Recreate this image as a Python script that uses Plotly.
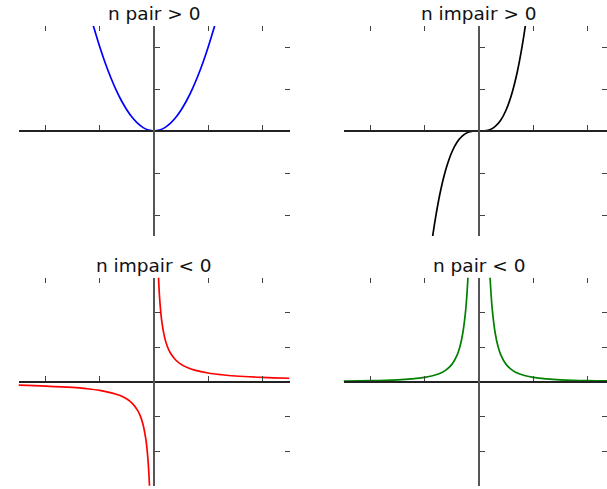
import plotly.graph_objects as go

# ---- curve samples (x, y) for each panel ----
# n pair > 0  : y = x^2
x_even_pos = [-2.4, -2.2, -2.0, -1.8, -1.6, -1.4, -1.2, -1.0, -0.8, -0.6, -0.4, -0.2, 0.0,
              0.2, 0.4, 0.6, 0.8, 1.0, 1.2, 1.4, 1.6, 1.8, 2.0, 2.2, 2.4]
y_even_pos = [5.76, 4.84, 4.0, 3.24, 2.56, 1.96, 1.44, 1.0, 0.64, 0.36, 0.16, 0.04, 0.0,
              0.04, 0.16, 0.36, 0.64, 1.0, 1.44, 1.96, 2.56, 3.24, 4.0, 4.84, 5.76]

# n impair > 0 : y = x^3
x_odd_pos = [-1.9, -1.8, -1.6, -1.4, -1.2, -1.0, -0.8, -0.6, -0.4, -0.2, 0.0,
             0.2, 0.4, 0.6, 0.8, 1.0, 1.2, 1.4, 1.6, 1.8, 1.9]
y_odd_pos = [-6.86, -5.83, -4.10, -2.74, -1.73, -1.0, -0.51, -0.22, -0.06, -0.01, 0.0,
             0.01, 0.06, 0.22, 0.51, 1.0, 1.73, 2.74, 4.10, 5.83, 6.86]

# n impair < 0 : y = 1/x (two branches)
x_odd_neg_left = [-5.0, -4.0, -3.0, -2.5, -2.0, -1.5, -1.25, -1.0, -0.8, -0.6, -0.5,
                  -0.4, -0.3, -0.25, -0.2, -0.15, -0.1]
y_odd_neg_left = [-0.2, -0.25, -0.33, -0.4, -0.5, -0.67, -0.8, -1.0, -1.25, -1.67, -2.0,
                  -2.5, -3.33, -4.0, -5.0, -6.67, -10.0]
x_odd_neg_right = [0.1, 0.15, 0.2, 0.25, 0.3, 0.4, 0.5, 0.6, 0.8, 1.0, 1.25, 1.5,
                   2.0, 2.5, 3.0, 4.0, 5.0]
y_odd_neg_right = [10.0, 6.67, 5.0, 4.0, 3.33, 2.5, 2.0, 1.67, 1.25, 1.0, 0.8, 0.67,
                   0.5, 0.4, 0.33, 0.25, 0.2]

# n pair < 0 : y = 1/x^2 (two branches)
x_even_neg_left = [-5.0, -4.0, -3.0, -2.5, -2.0, -1.5, -1.25, -1.0, -0.8, -0.7, -0.6,
                   -0.5, -0.45, -0.4, -0.35, -0.3]
y_even_neg_left = [0.04, 0.06, 0.11, 0.16, 0.25, 0.44, 0.64, 1.0, 1.56, 2.04, 2.78,
                   4.0, 4.94, 6.25, 8.16, 11.1]
x_even_neg_right = [0.3, 0.35, 0.4, 0.45, 0.5, 0.6, 0.7, 0.8, 1.0, 1.25, 1.5, 2.0,
                    2.5, 3.0, 4.0, 5.0]
y_even_neg_right = [11.1, 8.16, 6.25, 4.94, 4.0, 2.78, 2.04, 1.56, 1.0, 0.64, 0.44,
                    0.25, 0.16, 0.11, 0.06, 0.04]

titles = ["n pair > 0", "n impair > 0", "n impair < 0", "n pair < 0"]
tick_top = [-4, -2, 2, 4]
tick_bottom_y = [-6, -4, -2, 2, 4, 6]

# ---- layout geometry (pixels) ----
W, H = 607, 489
PX_PER_UNIT = 27.1
panels = [
    # left, right, top, bottom, yrange, yticks
    dict(l=18.5, r=289.5, t=26.0, b=236.0, yr=[-5, 5], yt=tick_top),
    dict(l=343.5, r=607.0, t=26.0, b=236.0, yr=[-5, 5], yt=tick_top),
    dict(l=18.5, r=289.5, t=277.7, b=485.7, yr=[-6, 6], yt=tick_bottom_y),
    dict(l=343.5, r=607.0, t=277.7, b=485.7, yr=[-6, 6], yt=tick_bottom_y),
]

fig = go.Figure()

series = [
    [(x_even_pos, y_even_pos, "#0000ff")],
    [(x_odd_pos, y_odd_pos, "#000000")],
    [(x_odd_neg_left, y_odd_neg_left, "#ff0000"), (x_odd_neg_right, y_odd_neg_right, "#ff0000")],
    [(x_even_neg_left, y_even_neg_left, "#008000"), (x_even_neg_right, y_even_neg_right, "#008000")],
]

layout = dict(width=W, height=H, margin=dict(l=0, r=0, t=0, b=0),
              paper_bgcolor="white", plot_bgcolor="white", showlegend=False)
annotations = []

common = dict(showgrid=False, zeroline=False, showticklabels=False, ticks="inside",
              ticklen=5, tickwidth=1, tickcolor="#444444", fixedrange=True)

for k, p in enumerate(panels, start=1):
    xd = [p["l"] / W, p["r"] / W]
    yd = [(H - p["b"]) / H, (H - p["t"]) / H]
    xr = [-5, -5 + (p["r"] - p["l"]) / PX_PER_UNIT]
    x0_paper = (p["l"] + 5 * PX_PER_UNIT) / W
    y0_paper = (yd[0] + yd[1]) / 2
    sfx = "" if k == 1 else str(k)
    ov = str(k + 4)

    for xs, ys, col in series[k - 1]:
        fig.add_trace(go.Scatter(x=xs, y=ys, mode="lines", line=dict(color=col, width=1.7, shape="spline"),
                                 xaxis="x" + sfx, yaxis="y" + sfx, hoverinfo="skip"))
    fig.add_trace(go.Scatter(x=[None], y=[None], mode="lines", xaxis="x" + ov, yaxis="y" + ov,
                             hoverinfo="skip"))

    # outer ticks (top/right, no line)
    layout["xaxis" + sfx] = dict(domain=xd, range=xr, anchor="y" + sfx, side="top",
                                 tickvals=tick_top, showline=False, **common)
    layout["yaxis" + sfx] = dict(domain=yd, range=p["yr"], anchor="x" + sfx, side="right",
                                 tickvals=p["yt"], showline=False, **common)
    # centred spines through the origin
    layout["xaxis" + ov] = dict(domain=xd, range=xr, overlaying="x" + sfx, anchor="free",
                                position=y0_paper, side="bottom", tickvals=tick_top,
                                showline=True, linecolor="#222222", linewidth=1.8, **common)
    layout["yaxis" + ov] = dict(domain=yd, range=p["yr"], overlaying="y" + sfx, anchor="free",
                                position=x0_paper, side="left", tickvals=p["yt"],
                                showline=True, linecolor="#555555", linewidth=2, **common)

    annotations.append(dict(text=titles[k - 1], xref="paper", yref="paper",
                            x=x0_paper, y=yd[1], xanchor="center", yanchor="bottom",
                            showarrow=False,
                            font=dict(family="DejaVu Sans", size=18.5, color="#111111")))

layout["annotations"] = annotations
fig.update_layout(**layout)
fig.write_html("out.html")
